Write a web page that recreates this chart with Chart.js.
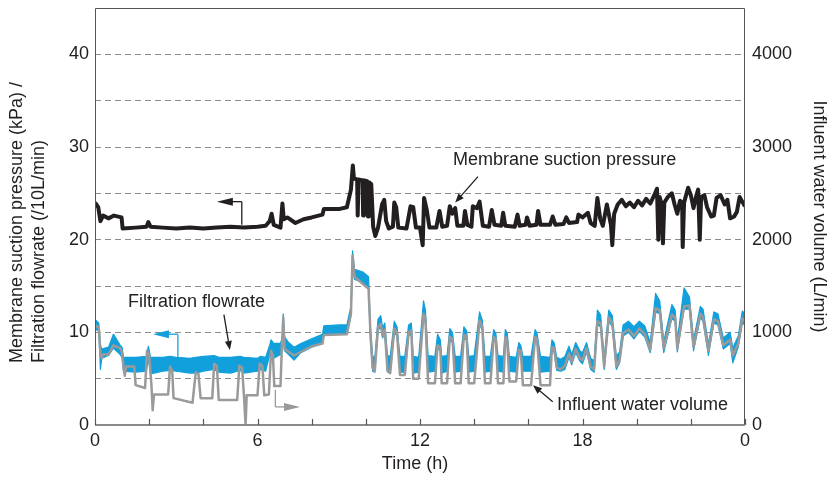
<!DOCTYPE html>
<html>
<head>
<meta charset="utf-8">
<script src="https://cdn.jsdelivr.net/npm/chart.js@4.4.1/dist/chart.umd.min.js"></script>
<style>
  html, body { margin: 0; padding: 0; background: #fff; }
  #boite { width: 836px; height: 481px; position: relative; }
</style>
</head>
<body>
<div id="boite"><canvas id="graph"></canvas></div>
<script>
// Axe des temps (h)
const timeTicks = [0, 6, 12, 18, 24];
const timeTickLabels = ["0", "6", "12", "18", "0"];
const minorTicks = [0, 2, 4, 6, 8, 10, 12, 14, 16, 18, 20, 22, 24];
// Axes verticaux
const leftGrid = [0, 5, 10, 15, 20, 25, 30, 35, 40];
const leftLabels = [0, 10, 20, 30, 40];
const rightTicks = [0, 1000, 2000, 3000, 4000];

// Membrane suction pressure (kPa)
const pressureTime = [0, 0.12, 0.2, 0.3, 0.5, 0.7, 0.98, 1.02, 1.5, 1.9, 1.97, 2.05, 2.5, 3.0, 3.5, 4.0, 4.5, 5.0, 5.5, 6.0,
  6.3, 6.45, 6.52, 6.6, 6.85, 6.92, 6.97, 7.1, 7.4, 7.7, 8.0, 8.4, 8.45, 9.0, 9.3, 9.45, 9.52, 9.56, 9.68, 9.7,
  9.73, 9.88, 9.9, 9.93, 10.05, 10.08, 10.11, 10.2, 10.27, 10.35, 10.45, 10.6, 10.68, 10.75, 10.85, 11.0, 11.05, 11.12, 11.2, 11.5,
  11.65, 11.75, 11.85, 12.0, 12.1, 12.15, 12.25, 12.35, 12.6, 12.72, 12.82, 13.0, 13.1, 13.2, 13.3, 13.38, 13.6, 13.66, 13.75, 13.9,
  13.95, 14.1, 14.2, 14.32, 14.55, 14.65, 14.75, 15.0, 15.07, 15.15, 15.5, 15.6, 15.68, 15.9, 15.95, 16.05, 16.3, 16.36, 16.45, 16.8,
  16.9, 17.0, 17.3, 17.4, 17.5, 17.8, 17.85, 18.0, 18.2, 18.3, 18.45, 18.55, 18.65, 18.75, 18.9, 19.05, 19.1, 19.17, 19.3, 19.45,
  19.6, 19.75, 19.9, 20.05, 20.2, 20.35, 20.5, 20.65, 20.75, 20.8, 20.85, 20.92, 20.97, 21.02, 21.15, 21.3, 21.4, 21.5, 21.6, 21.68,
  21.7, 21.75, 21.9, 22.0, 22.1, 22.2, 22.27, 22.33, 22.38, 22.5, 22.6, 22.75, 22.85, 22.95, 23.1, 23.25, 23.35, 23.45, 23.6, 23.7,
  23.8, 23.9, 24.0];
const pressureKPa = [24.0, 23.5, 22.0, 22.6, 22.3, 22.6, 22.4, 21.2, 21.3, 21.4, 21.9, 21.4, 21.3, 21.2, 21.3, 21.2, 21.3, 21.4, 21.3, 21.4,
  21.5, 22.0, 22.8, 21.6, 21.3, 23.9, 22.2, 22.4, 21.8, 22.2, 22.4, 22.7, 23.3, 23.3, 23.5, 25.4, 28.0, 26.6, 26.5, 22.6,
  26.5, 26.4, 22.6, 26.4, 26.3, 22.5, 26.2, 26.0, 21.4, 20.4, 21.3, 23.8, 24.3, 22.0, 21.2, 21.4, 24.0, 23.5, 21.3, 21.2,
  23.6, 23.5, 21.3, 21.3, 19.4, 24.5, 23.2, 21.3, 21.3, 23.1, 21.4, 21.5, 23.6, 22.8, 23.4, 21.5, 21.5, 23.1, 21.6, 21.4,
  23.6, 23.4, 24.1, 21.5, 21.4, 23.2, 21.6, 21.5, 22.9, 21.5, 21.4, 22.7, 21.5, 21.6, 22.4, 21.5, 21.6, 23.1, 21.6, 21.6,
  22.5, 21.6, 21.7, 22.4, 21.8, 21.9, 22.7, 22.4, 22.9, 21.8, 21.5, 24.5, 22.3, 21.5, 23.8, 21.6, 19.4, 22.8, 23.8, 24.3,
  23.6, 24.0, 23.5, 24.2, 23.7, 24.4, 23.9, 24.8, 25.5, 20.0, 24.6, 23.8, 19.6, 24.0, 24.6, 25.0, 23.8, 22.8, 24.2, 24.0,
  19.2, 24.0, 25.6, 24.8, 23.4, 24.7, 25.4, 20.0, 24.6, 24.8, 23.5, 22.5, 22.6, 24.5, 24.8, 23.8, 24.3, 22.3, 22.5, 23.0,
  24.6, 24.1, 23.6];

// Filtration flowrate (/10 L/min) : bord haut et bord bas de la bande bruitée
const flowTime = [0, 0.14, 0.2, 0.25, 0.5, 0.68, 0.93, 1.0, 1.05, 1.5, 1.9, 1.97, 2.05, 2.5, 2.77, 3.0, 3.5, 3.72, 4.0, 4.4,
  4.57, 5.0, 5.35, 5.5, 6.0, 6.1, 6.3, 6.45, 6.5, 6.6, 6.85, 6.92, 6.95, 7.0, 7.15, 7.35, 7.6, 8.0, 8.4, 8.45,
  9.0, 9.3, 9.45, 9.51, 9.58, 9.9, 10.1, 10.17, 10.25, 10.33, 10.45, 10.55, 10.62, 10.7, 10.8, 10.9, 11.05, 11.15, 11.26, 11.44,
  11.58, 11.68, 11.75, 11.95, 12.13, 12.2, 12.3, 12.55, 12.65, 12.75, 12.8, 13.0, 13.1, 13.2, 13.3, 13.5, 13.62, 13.72, 13.8, 14.0,
  14.2, 14.3, 14.4, 14.6, 14.72, 14.8, 14.88, 15.08, 15.15, 15.22, 15.3, 15.55, 15.65, 15.72, 15.8, 16.1, 16.25, 16.32, 16.45, 16.8,
  16.87, 16.95, 17.05, 17.2, 17.35, 17.5, 17.6, 17.75, 17.9, 18.0, 18.15, 18.3, 18.43, 18.55, 18.67, 18.8, 18.97, 19.1, 19.25, 19.37,
  19.5, 19.7, 19.9, 20.1, 20.3, 20.5, 20.7, 20.85, 21.0, 21.3, 21.42, 21.5, 21.75, 21.95, 22.1, 22.35, 22.45, 22.65, 22.85, 23.0,
  23.2, 23.45, 23.55, 23.75, 23.9, 24.0];
const flowHigh = [11.4, 11.0, 8.6, 8.2, 8.4, 9.8, 8.6, 8.4, 7.3, 7.3, 7.4, 8.5, 7.3, 7.3, 7.4, 7.3, 7.2, 7.3, 7.4, 7.5,
  7.3, 7.3, 7.4, 7.3, 7.2, 7.4, 7.3, 8.6, 9.2, 8.8, 8.8, 9.5, 12.0, 9.5, 8.9, 8.4, 8.8, 9.3, 9.8, 10.7,
  10.8, 10.8, 12.8, 18.8, 16.8, 16.5, 16.0, 10.5, 7.5, 7.2, 11.4, 11.8, 10.5, 11.0, 7.5, 7.4, 11.2, 10.6, 7.4, 7.4,
  10.8, 11.0, 7.4, 7.3, 13.4, 12.4, 7.5, 7.4, 9.8, 9.2, 7.4, 7.5, 10.4, 10.0, 7.4, 7.4, 10.6, 10.2, 7.4, 7.5,
  12.2, 11.3, 7.4, 7.4, 10.3, 9.9, 7.5, 7.4, 10.3, 9.9, 7.4, 7.3, 8.9, 8.6, 7.4, 7.4, 10.3, 9.9, 7.4, 7.3,
  9.2, 8.9, 7.3, 7.1, 7.4, 8.5, 7.6, 8.9, 8.0, 7.8, 8.9, 7.2, 6.9, 12.4, 11.9, 7.2, 12.4, 11.8, 7.4, 7.9,
  10.8, 11.2, 10.6, 11.2, 10.7, 8.9, 14.2, 13.4, 9.0, 13.0, 12.4, 9.1, 14.8, 13.8, 9.2, 12.8, 12.5, 8.7, 12.2, 12.0,
  9.4, 10.0, 8.3, 9.6, 12.3, 12.0];
const flowLow = [10.3, 10.2, 6.0, 7.2, 7.5, 8.3, 7.6, 7.3, 5.8, 5.7, 5.8, 7.2, 5.5, 5.8, 5.9, 5.8, 5.6, 5.6, 5.8, 6.0,
  5.7, 5.6, 5.9, 5.6, 5.8, 6.0, 5.8, 7.6, 8.0, 7.2, 7.6, 8.2, 10.8, 8.0, 7.6, 7.0, 7.8, 8.4, 8.8, 9.8,
  9.8, 9.9, 11.8, 17.6, 15.7, 15.4, 14.8, 9.2, 5.8, 5.7, 10.2, 10.6, 9.4, 9.9, 5.8, 5.7, 10.0, 9.6, 5.7, 5.7,
  9.6, 9.8, 5.6, 5.7, 11.6, 11.0, 5.7, 5.8, 8.3, 8.0, 5.6, 5.8, 9.1, 8.9, 5.7, 5.8, 9.3, 9.2, 5.7, 5.8,
  10.9, 10.2, 5.7, 5.8, 9.1, 8.9, 5.8, 5.7, 9.1, 8.8, 5.8, 5.7, 7.7, 7.6, 5.8, 5.8, 9.1, 8.9, 5.7, 5.8,
  8.0, 7.9, 5.9, 5.8, 6.0, 7.3, 6.5, 7.8, 6.9, 6.6, 7.9, 6.0, 5.7, 10.8, 10.6, 6.0, 11.2, 10.6, 6.0, 6.7,
  9.6, 10.0, 9.3, 10.1, 9.5, 7.8, 12.2, 12.0, 7.8, 11.5, 11.2, 7.9, 12.5, 12.5, 8.0, 11.6, 11.2, 7.5, 11.0, 10.8,
  8.2, 8.8, 6.7, 8.4, 11.0, 10.8];

// Influent water volume (L/min)
const influentTime = [0, 0.14, 0.2, 0.25, 0.3, 0.5, 0.68, 0.93, 1.0, 1.05, 1.1, 1.15, 1.45, 1.5, 1.85, 1.92, 2.0, 2.08, 2.13, 2.18,
  2.7, 2.77, 2.85, 2.9, 3.6, 3.72, 3.82, 3.9, 4.33, 4.4, 4.5, 4.57, 5.25, 5.33, 5.43, 5.5, 5.56, 5.6, 6.0, 6.08,
  6.18, 6.25, 6.42, 6.5, 6.57, 6.62, 6.85, 6.9, 6.95, 7.0, 7.35, 8.0, 8.4, 8.45, 9.3, 9.45, 9.51, 9.58, 10.1, 10.17,
  10.25, 10.33, 10.45, 10.55, 10.62, 10.7, 10.8, 10.9, 11.05, 11.15, 11.26, 11.44, 11.58, 11.68, 11.75, 11.95, 12.13, 12.2, 12.3, 12.55,
  12.65, 12.75, 12.8, 13.0, 13.1, 13.2, 13.3, 13.5, 13.62, 13.72, 13.8, 14.0, 14.2, 14.3, 14.4, 14.6, 14.72, 14.8, 14.88, 15.08,
  15.15, 15.22, 15.3, 15.55, 15.65, 15.72, 15.8, 16.1, 16.25, 16.32, 16.45, 16.8, 16.87, 16.95, 17.05, 17.2, 17.35, 17.5, 17.6, 17.75,
  17.9, 18.0, 18.15, 18.3, 18.43, 18.55, 18.67, 18.8, 18.97, 19.1, 19.25, 19.37, 19.5, 19.7, 19.9, 20.1, 20.3, 20.5, 20.7, 20.85,
  21.0, 21.3, 21.42, 21.5, 21.75, 21.95, 22.1, 22.35, 22.45, 22.65, 22.85, 23.0, 23.2, 23.45, 23.55, 23.75, 23.9, 24.0];
const influentLpm = [1080, 1050, 780, 720, 760, 760, 860, 830, 780, 630, 530, 630, 630, 430, 400, 800, 760, 450, 160, 330,
  330, 630, 590, 290, 240, 570, 550, 290, 290, 660, 640, 270, 270, 640, 620, 320, 0, 320, 320, 660,
  640, 320, 330, 800, 750, 420, 420, 850, 1160, 820, 750, 850, 880, 970, 980, 1200, 1830, 1600, 1470, 990,
  620, 580, 1060, 1090, 960, 1030, 580, 560, 1040, 1000, 540, 540, 1000, 1020, 500, 500, 1200, 1150, 450, 450,
  860, 840, 450, 450, 950, 930, 450, 450, 970, 960, 450, 450, 1130, 1060, 450, 450, 950, 930, 450, 450,
  950, 920, 470, 470, 810, 800, 430, 430, 950, 930, 430, 430, 840, 830, 620, 600, 640, 770, 680, 820,
  720, 700, 830, 630, 600, 1120, 1100, 630, 1160, 1100, 630, 700, 990, 1030, 960, 1040, 980, 810, 1260, 1240,
  830, 1190, 1160, 830, 1280, 1290, 840, 1200, 1160, 800, 1140, 1120, 860, 920, 750, 880, 1150, 1120];

const bleu = "#12a0dc";
const gris = "#9a9a9a";
const noir = "#231f20";
const police = "'Liberation Sans', Arial, Helvetica, sans-serif";
const taille = 18;

function points(temps, valeurs) {
  return temps.map((t, i) => ({ x: t, y: valeurs[i] }));
}

// trait de (x1,y1) à (x2,y2), avec une pointe pleine en (x2,y2) si longueur > 0
function fleche(ctx, x1, y1, x2, y2, couleur, longueur, demi) {
  const a = Math.atan2(y2 - y1, x2 - x1);
  ctx.strokeStyle = couleur;
  ctx.fillStyle = couleur;
  ctx.lineWidth = 1.3;
  ctx.beginPath();
  ctx.moveTo(x1, y1);
  ctx.lineTo(x2 - Math.cos(a) * longueur * 0.8, y2 - Math.sin(a) * longueur * 0.8);
  ctx.stroke();
  if (!longueur) return;
  ctx.beginPath();
  ctx.moveTo(x2, y2);
  ctx.lineTo(x2 - Math.cos(a) * longueur - Math.sin(a) * demi, y2 - Math.sin(a) * longueur + Math.cos(a) * demi);
  ctx.lineTo(x2 - Math.cos(a) * longueur + Math.sin(a) * demi, y2 - Math.sin(a) * longueur - Math.cos(a) * demi);
  ctx.closePath();
  ctx.fill();
}

const habillage = {
  id: "habillage",
  afterDraw(chart) {
    const { ctx, chartArea: ca, scales } = chart;
    const px = h => scales.x.getPixelForValue(h);
    const py = v => scales.y.getPixelForValue(v);
    ctx.save();

    // cadre
    ctx.strokeStyle = "#555";
    ctx.lineWidth = 1;
    ctx.beginPath();
    ctx.moveTo(ca.left + 0.5, ca.bottom);
    ctx.lineTo(ca.left + 0.5, ca.top + 0.5);
    ctx.lineTo(ca.right - 0.5, ca.top + 0.5);
    ctx.lineTo(ca.right - 0.5, ca.bottom);
    ctx.stroke();
    ctx.strokeStyle = "#8a8a8a";
    ctx.lineWidth = 2;
    ctx.beginPath();
    ctx.moveTo(ca.left, ca.bottom);
    ctx.lineTo(ca.right, ca.bottom);
    ctx.stroke();

    // graduations vers l'intérieur, toutes les 2 h
    ctx.strokeStyle = "#555";
    ctx.lineWidth = 1.2;
    minorTicks.forEach(h => {
      const x = Math.round(px(h)) + 0.5;
      ctx.beginPath();
      ctx.moveTo(x, ca.bottom);
      ctx.lineTo(x, ca.bottom - 6);
      ctx.stroke();
    });

    // flèches indiquant l'axe de chaque courbe
    fleche(ctx, px(5.42), py(21.6), px(5.42), py(24.1), noir, 0, 0);
    fleche(ctx, px(5.42), py(24.1), px(4.5), py(24.1), noir, 16, 4);
    fleche(ctx, px(3.06), py(7.3), px(3.06), py(9.8), bleu, 0, 0);
    fleche(ctx, px(3.06), py(9.8), px(2.14), py(9.8), bleu, 16, 4);
    fleche(ctx, px(6.66), py(3.8), px(6.66), py(1.95), gris, 0, 0);
    fleche(ctx, px(6.66), py(1.95), px(7.57), py(1.95), gris, 16, 4);

    // légendes dans le graphique
    ctx.fillStyle = "#222";
    ctx.font = taille + "px " + police;
    ctx.textBaseline = "middle";
    ctx.textAlign = "left";
    ctx.fillText("Membrane suction pressure", px(13.22), py(28.6));
    ctx.fillText("Influent water volume", px(17.06), py(2.2));
    ctx.textAlign = "center";
    ctx.fillText("Filtration flowrate", px(3.75), py(13.3));
    fleche(ctx, px(14.14), py(26.8), px(13.3), py(24.0), noir, 9, 3.5);
    fleche(ctx, px(4.76), py(11.9), px(4.98), py(8.1), noir, 9, 3.5);
    fleche(ctx, px(16.9), py(2.5), px(16.17), py(4.3), noir, 9, 3.5);

    // titres des axes
    ctx.textAlign = "center";
    ctx.fillText("Time (h)", (ca.left + ca.right) / 2 - 5, ca.bottom + 39);

    ctx.save();
    ctx.translate(17, ca.bottom - 62);
    ctx.rotate(-Math.PI / 2);
    ctx.textAlign = "left";
    ctx.fillText("Membrane suction pressure (kPa) /", 0, 0);
    ctx.fillText("Filtration flowrate (/10L/min)", 0, 22);
    ctx.restore();

    ctx.save();
    ctx.translate(819, (ca.top + ca.bottom) / 2);
    ctx.rotate(Math.PI / 2);
    ctx.textAlign = "center";
    ctx.fillText("Influent water volume (L/min)", 0, 0);
    ctx.restore();

    ctx.restore();
  }
};

document.addEventListener("DOMContentLoaded", () => {
  const ctx = document.getElementById("graph").getContext("2d");
  new Chart(ctx, {
    type: "line",
    data: {
      datasets: [
        {
          label: "Influent water volume",
          data: points(influentTime, influentLpm),
          yAxisID: "yRight",
          borderColor: gris,
          borderWidth: 2.5,
          fill: false
        },
        {
          label: "Membrane suction pressure",
          data: points(pressureTime, pressureKPa),
          yAxisID: "y",
          borderColor: noir,
          borderWidth: 4,
          fill: false
        },
        {
          label: "Filtration flowrate (bas)",
          data: points(flowTime, flowLow),
          yAxisID: "y",
          borderColor: bleu,
          borderWidth: 1.2,
          fill: false
        },
        {
          label: "Filtration flowrate",
          data: points(flowTime, flowHigh),
          yAxisID: "y",
          borderColor: bleu,
          backgroundColor: bleu,
          borderWidth: 1.2,
          fill: "-1"
        }
      ]
    },
    options: {
      responsive: true,
      maintainAspectRatio: false,
      animation: false,
      layout: { padding: { top: 8, left: 0, right: 0, bottom: 0 } },
      elements: {
        point: { radius: 0 },
        line: { tension: 0, borderJoinStyle: "round" }
      },
      plugins: {
        legend: { display: false },
        tooltip: { enabled: false }
      },
      scales: {
        x: {
          type: "linear",
          min: 0,
          max: 24,
          afterBuildTicks: s => { s.ticks = timeTicks.map(v => ({ value: v })); },
          afterFit: s => { s.height = 56; s.paddingLeft = 0; s.paddingRight = 0; },
          ticks: {
            autoSkip: false,
            maxRotation: 0,
            padding: 5,
            color: "#222",
            font: { family: police, size: taille },
            callback: v => timeTickLabels[timeTicks.indexOf(v)]
          },
          grid: { display: false, drawTicks: false },
          border: { display: false }
        },
        y: {
          position: "left",
          min: 0,
          max: 45,
          afterBuildTicks: s => { s.ticks = leftGrid.map(v => ({ value: v })); },
          afterFit: s => { s.width = 95; s.paddingTop = 0; s.paddingBottom = 0; },
          ticks: {
            padding: 6,
            color: "#222",
            font: { family: police, size: taille },
            callback: v => (leftLabels.includes(v) ? String(v) : "")
          },
          grid: {
            drawTicks: false,
            lineWidth: 1,
            color: c => (c.tick && c.tick.value > 0 ? "#8c8c8c" : "rgba(0,0,0,0)")
          },
          border: { display: false, dash: [6, 4] }
        },
        yRight: {
          position: "right",
          min: 0,
          max: 4500,
          afterBuildTicks: s => { s.ticks = rightTicks.map(v => ({ value: v })); },
          afterFit: s => { s.width = 91; s.paddingTop = 0; s.paddingBottom = 0; },
          ticks: {
            padding: 7,
            color: "#222",
            font: { family: police, size: taille },
            callback: v => String(v)
          },
          grid: { display: false, drawTicks: false },
          border: { display: false }
        }
      }
    },
    plugins: [habillage]
  });
});
</script>
</body>
</html>
